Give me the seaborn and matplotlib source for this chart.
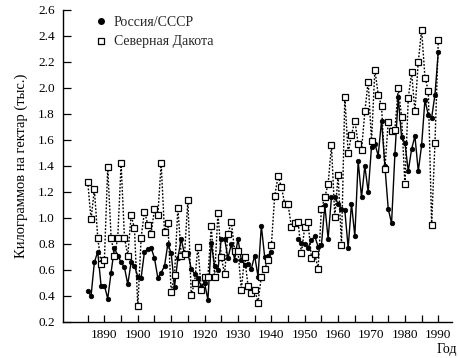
import numpy as np
import pandas as pd
import matplotlib
matplotlib.use("Agg")
import matplotlib.pyplot as plt
from matplotlib.lines import Line2D
import seaborn as sns

# Урожайность пшеницы, тыс. кг/га
years = list(range(1885, 1991))

russia = [
    0.44, 0.40, 0.66, 0.74, 0.48,                                  # 1885-1889
    0.48, 0.38, 0.58, 0.77, 0.71, 0.66, 0.62, 0.49, 0.66, 0.63,    # 1890-1899
    0.55, 0.54, 0.74, 0.76, 0.77, 0.69, 0.54, 0.58, 0.63, 0.80,    # 1900-1909
    0.73, 0.47, 0.69, 0.84, 0.72, 0.73, 0.61, 0.57, 0.54, 0.47,    # 1910-1919
    0.50, 0.37, 0.81, 0.63, 0.60, 0.84, 0.84, 0.69, 0.80, 0.68,    # 1920-1929
    0.84, 0.68, 0.64, 0.65, 0.61, 0.71, 0.55, 0.94, 0.70, 0.71,    # 1930-1939
    0.74, np.nan, np.nan, np.nan, np.nan, np.nan, np.nan, np.nan, 0.84, 0.81,  # 1940-1949
    0.80, 0.77, 0.83, 0.86, 0.78, 0.79, 1.10, 0.84, 1.16, 1.16,    # 1950-1959
    1.11, 1.07, 1.06, 0.77, 1.11, 0.86, 1.44, 1.16, 1.40, 1.20,    # 1960-1969
    1.55, 1.57, 1.48, 1.75, 1.40, 1.07, 0.96, 1.49, 1.93, 1.62,    # 1970-1979
    1.58, 1.36, 1.53, 1.63, 1.36, 1.56, 1.91, 1.79, 1.77, 1.95,    # 1980-1989
    2.28,                                                          # 1990
]

dakota = [
    1.28, 0.99, 1.22, 0.85, 0.65,                                  # 1885-1889
    0.68, 1.39, 0.85, 0.71, 0.85, 1.42, 0.85, 0.71, 1.02, 0.92,    # 1890-1899
    0.32, 0.85, 1.05, 0.95, 0.88, 1.07, 1.02, 1.42, 0.89, 0.96,    # 1900-1909
    0.43, 0.56, 1.08, 0.71, 0.72, 1.14, 0.41, 0.50, 0.78, 0.45,    # 1910-1919
    0.55, 0.55, 0.94, 0.55, 1.04, 0.70, 0.57, 0.88, 0.97, 0.75,    # 1920-1929
    0.75, 0.45, 0.70, 0.48, 0.42, 0.45, 0.35, 0.55, 0.61, 0.68,    # 1930-1939
    0.79, 1.17, 1.32, 1.24, 1.11, 1.11, 0.93, 0.96, 0.97, 0.73,    # 1940-1949
    0.93, 0.97, 0.69, 0.72, 0.61, 1.07, 1.16, 1.26, 1.56, 1.01,    # 1950-1959
    1.33, 0.79, 1.93, 1.50, 1.64, 1.75, 1.57, 1.52, 1.82, 2.05,    # 1960-1969
    1.59, 2.14, 1.95, 1.86, 1.38, 1.74, 1.67, 1.68, 2.00, 1.78,    # 1970-1979
    1.26, 1.92, 2.12, 1.82, 2.20, 2.45, 2.08, 1.98, 0.95, 1.58,    # 1980-1989
    2.37,                                                          # 1990
]

label_ru = "Россия/СССР"
label_nd = "Северная Дакота"

ru_df = pd.DataFrame({"year": years, "val": russia})
# разрыв в военные годы -> отдельные отрезки линии
ru_df["seg"] = ru_df["val"].isna().cumsum()
ru_df = ru_df.dropna()
nd_df = pd.DataFrame({"year": years, "val": dakota})

sns.set_style("ticks")
plt.rcParams["font.family"] = ["Liberation Serif", "DejaVu Serif"]

fig = plt.figure(figsize=(4.59, 3.58), dpi=100)
ax = fig.add_axes([63 / 459, 36 / 358, 389 / 459, 312 / 358])

sns.lineplot(data=ru_df, x="year", y="val", units="seg", estimator=None,
             color="black", linewidth=1.0, marker="o", markersize=3.3,
             markerfacecolor="black", markeredgecolor="black",
             markeredgewidth=0.5, ax=ax)
sns.lineplot(data=nd_df, x="year", y="val", color="black",
             linewidth=1.0, linestyle=(0, (1.3, 1.2)), marker="s",
             markersize=3.7, markerfacecolor="white",
             markeredgecolor="black", markeredgewidth=0.9, ax=ax)

ax.set_xlim(1877.6, 1994.1)
ax.set_ylim(0.2, 2.6)
ax.set_xticks(range(1890, 1991, 10))
ax.set_xticks(range(1885, 1991, 5), minor=True)
ax.set_yticks(np.arange(0.2, 2.61, 0.2))
ax.set_yticklabels([f"{v:.1f}" for v in np.arange(0.2, 2.61, 0.2)])
ax.tick_params(axis="both", which="both", direction="in", width=0.9,
               labelsize=9.5, color="black", labelcolor="black")
ax.tick_params(axis="y", length=6, pad=6)
ax.tick_params(axis="x", which="both", length=5, pad=5)
sns.despine(ax=ax)
for s in ("left", "bottom"):
    ax.spines[s].set_linewidth(1.0)
    ax.spines[s].set_color("black")

ax.set_xlabel("")
ax.set_ylabel("Килограммов на гектар (тыс.)", fontsize=10.5, color="black")
ax.yaxis.set_label_coords(-0.09, 0.5)
fig.text(457 / 459, 15 / 358, "Год", ha="right", va="top",
         fontsize=10, color="black")

handles = [
    Line2D([], [], ls="none", marker="o", markersize=4.0, color="black"),
    Line2D([], [], ls="none", marker="s", markersize=4.2,
           markerfacecolor="white", markeredgecolor="black",
           markeredgewidth=0.9),
]
ax.legend(handles, [label_ru, label_nd], loc="upper left",
          bbox_to_anchor=(0.07, 1.0), frameon=False, fontsize=10,
          handlelength=0.8, handletextpad=0.5, labelspacing=0.5,
          borderaxespad=0.0)

fig.savefig("out.png", dpi=100)
